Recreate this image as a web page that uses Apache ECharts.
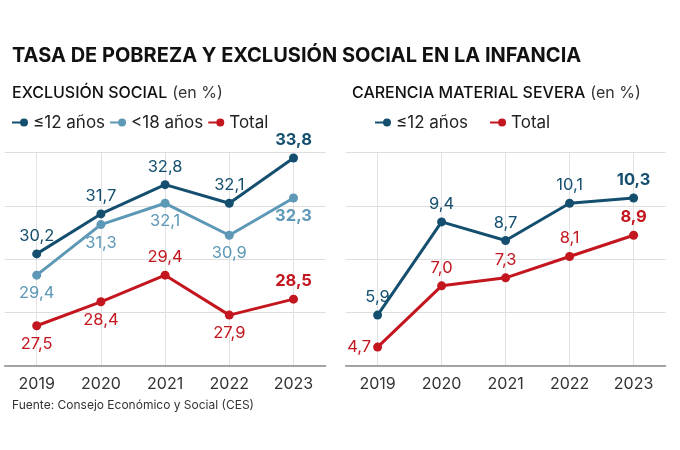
<!DOCTYPE html>
<html><head><meta charset="utf-8">
<script src="https://cdn.jsdelivr.net/npm/echarts@6/dist/echarts.min.js"></script>
<style>html,body{margin:0;padding:0;background:#fff}#c{width:680px;height:450px}</style>
</head><body><div id="c"></div>
<script>
const years = ['2019','2020','2021','2022','2023'];
const excl12 = [30.2, 31.7, 32.8, 32.1, 33.8];
const excl18 = [29.4, 31.3, 32.1, 30.9, 32.3];
const exclTotal = [27.5, 28.4, 29.4, 27.9, 28.5];
const car12 = [5.9, 9.4, 8.7, 10.1, 10.3];
const carTotal = [4.7, 7.0, 7.3, 8.1, 8.9];

const posExcl12 = ['top','top','top','top','top'];
const posExcl18 = ['bottom','bottom','bottom','bottom','bottom'];
const posExclTotal = ['bottom','bottom','top','bottom','top'];
const posCar12 = ['top','top','top','top','top'];
const posCarTotal = ['left','top','top','top','top'];

const C12 = '#154f6f', C18 = '#5d98b6', CT = '#c4161f';
const FONT = 'Inter';
const ICON = 'path://M0,2.9H10V5.1H0Z M8,4A4,4 0 1,1 16,4A4,4 0 1,1 8,4Z';

function mk(name, vals, pos, color, xi) {
  return {
    name: name, type: 'line', xAxisIndex: xi, yAxisIndex: xi, z: 3,
    symbol: 'circle', symbolSize: 9,
    lineStyle: {width: 3, color: color}, itemStyle: {color: color},
    data: vals.map((v, i) => ({
      value: v,
      label: {position: pos[i], fontWeight: i === vals.length - 1 ? 'bold' : 'normal',
              distance: pos[i] === 'left' ? 2 : 5}
    })),
    label: {show: true, color: color, fontSize: 16.5, fontFamily: FONT,
            formatter: p => p.value.toFixed(1).replace('.', ',')},
    animation: false
  };
}

const xAx = (gi) => ({
  type: 'category', gridIndex: gi, data: years, boundaryGap: true,
  axisLine: {lineStyle: {color: '#8a8a8a', width: 1.5}},
  axisTick: {show: false},
  axisLabel: {color: '#333', fontSize: 16, fontFamily: FONT, margin: 10},
  splitLine: {show: true, alignWithLabel: true, lineStyle: {color: '#e2e2e2', width: 1}}
});
const yAx = (gi, mn, mx) => ({
  type: 'value', gridIndex: gi, min: mn, max: mx, interval: 2,
  axisLabel: {show: false}, axisLine: {show: false}, axisTick: {show: false},
  splitLine: {lineStyle: {color: '#dedede', width: 1}}
});

const sub = {
  a: {fontSize: 16, color: '#111', fontWeight: 500, fontFamily: FONT},
  b: {fontSize: 16, color: '#333', fontWeight: 'normal', fontFamily: FONT}
};

const chart = echarts.init(document.getElementById('c'));
chart.setOption({
  animation: false,
  textStyle: {fontFamily: FONT},
  title: [
    {text: 'TASA DE POBREZA Y EXCLUSIÓN SOCIAL EN LA INFANCIA', left: 7, top: 41,
     textStyle: {fontSize: 20, fontWeight: 'bold', color: '#111', fontFamily: FONT}},
    {text: '{a|EXCLUSIÓN SOCIAL} {b|(en %)}', left: 7, top: 79,
     textStyle: {fontWeight: 'normal', rich: sub}},
    {text: '{a|CARENCIA MATERIAL SEVERA} {b|(en %)}', left: 347, top: 79,
     textStyle: {fontWeight: 'normal', rich: sub}},
    {text: 'Fuente: Consejo Económico y Social (CES)', left: 7, top: 394,
     textStyle: {fontSize: 12, fontWeight: 'normal', color: '#333', fontFamily: FONT}}
  ],
  legend: [
    {data: ['≤12 años', '<18 años', 'Total'], left: 7, top: 109, icon: ICON,
     itemWidth: 16, itemHeight: 8, itemGap: 5, selectedMode: false,
     textStyle: {fontSize: 17, color: '#222', fontFamily: FONT}},
    {data: ['≤12 años', 'Total'], left: 370, top: 109, icon: ICON,
     itemWidth: 16, itemHeight: 8, itemGap: 22, selectedMode: false,
     textStyle: {fontSize: 17, color: '#222', fontFamily: FONT}}
  ],
  grid: [
    {left: 4.6, right: 354.4, top: 152.7, bottom: 84.3},
    {left: 345.6, right: 14.4, top: 152.7, bottom: 84.3}
  ],
  xAxis: [xAx(0), xAx(1)],
  yAxis: [yAx(0, 26, 34), yAx(1, 4, 12)],
  series: [
    mk('≤12 años', excl12, posExcl12, C12, 0),
    mk('<18 años', excl18, posExcl18, C18, 0),
    mk('Total', exclTotal, posExclTotal, CT, 0),
    mk('≤12 años', car12, posCar12, C12, 1),
    mk('Total', carTotal, posCarTotal, CT, 1)
  ]
});
</script></body></html>
